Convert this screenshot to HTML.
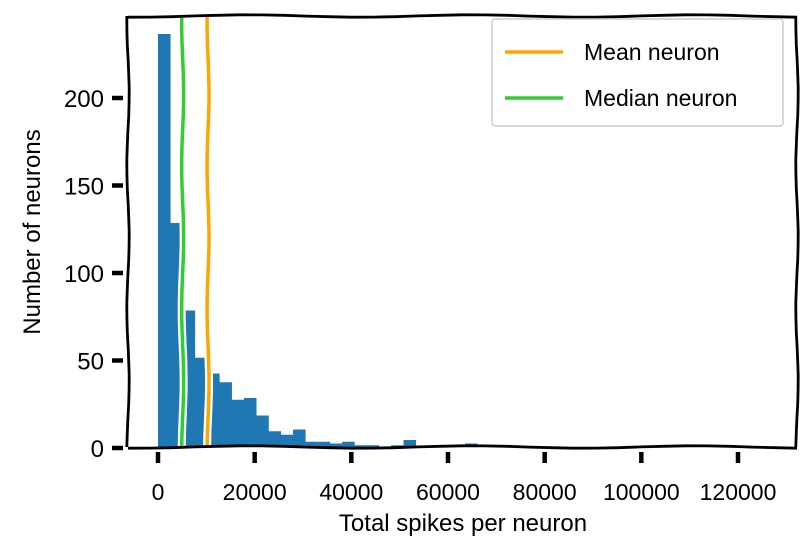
<!DOCTYPE html>
<html><head><meta charset="utf-8"><style>
html,body{margin:0;padding:0;background:#fff;}
svg{display:block;font-family:"Liberation Sans",sans-serif;}
</style></head><body>
<svg id="chart" width="811" height="556" viewBox="0 0 811 556" xmlns="http://www.w3.org/2000/svg">
<g id="bars"></g>
<g id="lines"></g>
<g id="axes"></g>
<g id="legend"></g>
<text x="463" y="531" font-size="24" text-anchor="middle" fill="#000">Total spikes per neuron</text>
<text transform="translate(40,232) rotate(-90)" font-size="24" text-anchor="middle" fill="#000">Number of neurons</text>
</svg>
<script>
const binWidth = 2540;
const counts = [236,128,78,51,42,37,27,28,18,9,7,10,3,3,2,3,1,1,0,1,4,0,0,0,0,2];
const meanValue = 10350;
const medianValue = 5100;
const xTicks = [0,20000,40000,60000,80000,100000,120000];
const yTicks = [0,50,100,150,200];
const NS = "http://www.w3.org/2000/svg";
const X0 = 158, XS = 580/120000, Y0 = 448, YS = 1.75;
const L = 128, R = 797, T = 16, B = 447;
function xs(v){return X0 + v*XS;}
function ys(v){return Y0 - v*YS;}
function mk(tag, attrs, parent){const e=document.createElementNS(NS,tag);for(const k in attrs)e.setAttribute(k,attrs[k]);parent.appendChild(e);return e;}
function wavy(x1,y1,x2,y2,amp){
  const n=30;let d="";
  const dx=x2-x1,dy=y2-y1,len=Math.hypot(dx,dy),nx=-dy/len,ny=dx/len;
  for(let i=0;i<=n;i++){const t=i/n;const o=amp*Math.sin(t*Math.PI*6+1.3);d+=(i?"L":"M")+(x1+dx*t+nx*o).toFixed(1)+","+(y1+dy*t+ny*o).toFixed(1);}
  return d;
}
const bars=document.getElementById("bars");
counts.forEach((c,i)=>{
  if(c<=0)return;
  const x=xs(i*binWidth), w=binWidth*XS;
  const r=mk("rect",{x:x,y:ys(c)-1,width:w+0.3,height:ys(0)-ys(c),fill:"#1f77b4"},bars);
  
  
});
const lines=document.getElementById("lines");
[[medianValue,"#32cd32","median-line"],[meanValue,"#ffa500","mean-line"]].forEach(([v,c,n])=>{
  mk("path",{d:wavy(xs(v),T,xs(v),B,1),stroke:"#fff","stroke-width":8,fill:"none"},lines);
  const p=mk("path",{d:wavy(xs(v),T,xs(v),B,1),stroke:c,"stroke-width":3.5,fill:"none"},lines);
  
  
});
const axes=document.getElementById("axes");
[[L,T,L,B,"left-spine"],[R,T,R,B,"right-spine"],[L,T,R,T,"top-spine"],[L,B,R,B,"bottom-spine"]].forEach(a=>{
  const p=mk("path",{d:wavy(a[0],a[1],a[2],a[3],1.2),stroke:"#000","stroke-width":2.8,fill:"none"},axes);
  
  
});
xTicks.forEach(v=>{
  const x=xs(v);
  const t=mk("line",{x1:x,y1:452,x2:x,y2:463,stroke:"#000","stroke-width":4.5},axes);
  
  
  const l=mk("text",{x:x,y:500,"font-size":23,"text-anchor":"middle",fill:"#000"},axes);
  l.textContent=v;
  
  
});
yTicks.forEach(v=>{
  const y=ys(v);
  const t=mk("line",{x1:112,y1:y,x2:123,y2:y,stroke:"#000","stroke-width":4.5},axes);
  
  
  const l=mk("text",{x:104,y:y+9,"font-size":24,"text-anchor":"end",fill:"#000"},axes);
  l.textContent=v;
  
  
});
const lg=document.getElementById("legend");
mk("rect",{x:492,y:19,width:291,height:107,fill:"#fff",stroke:"#ccc","stroke-width":1.5,rx:3},lg);
[["Mean neuron","#ffa500",52],["Median neuron","#32cd32",98]].forEach(([t,c,y])=>{
  const ln=mk("line",{x1:505,y1:y,x2:563,y2:y,stroke:c,"stroke-width":3.5},lg);
  
  
  const tx=mk("text",{x:584,y:y+8,"font-size":23,fill:"#000"},lg);
  tx.textContent=t;
  
  
});
</script>
</body></html>
